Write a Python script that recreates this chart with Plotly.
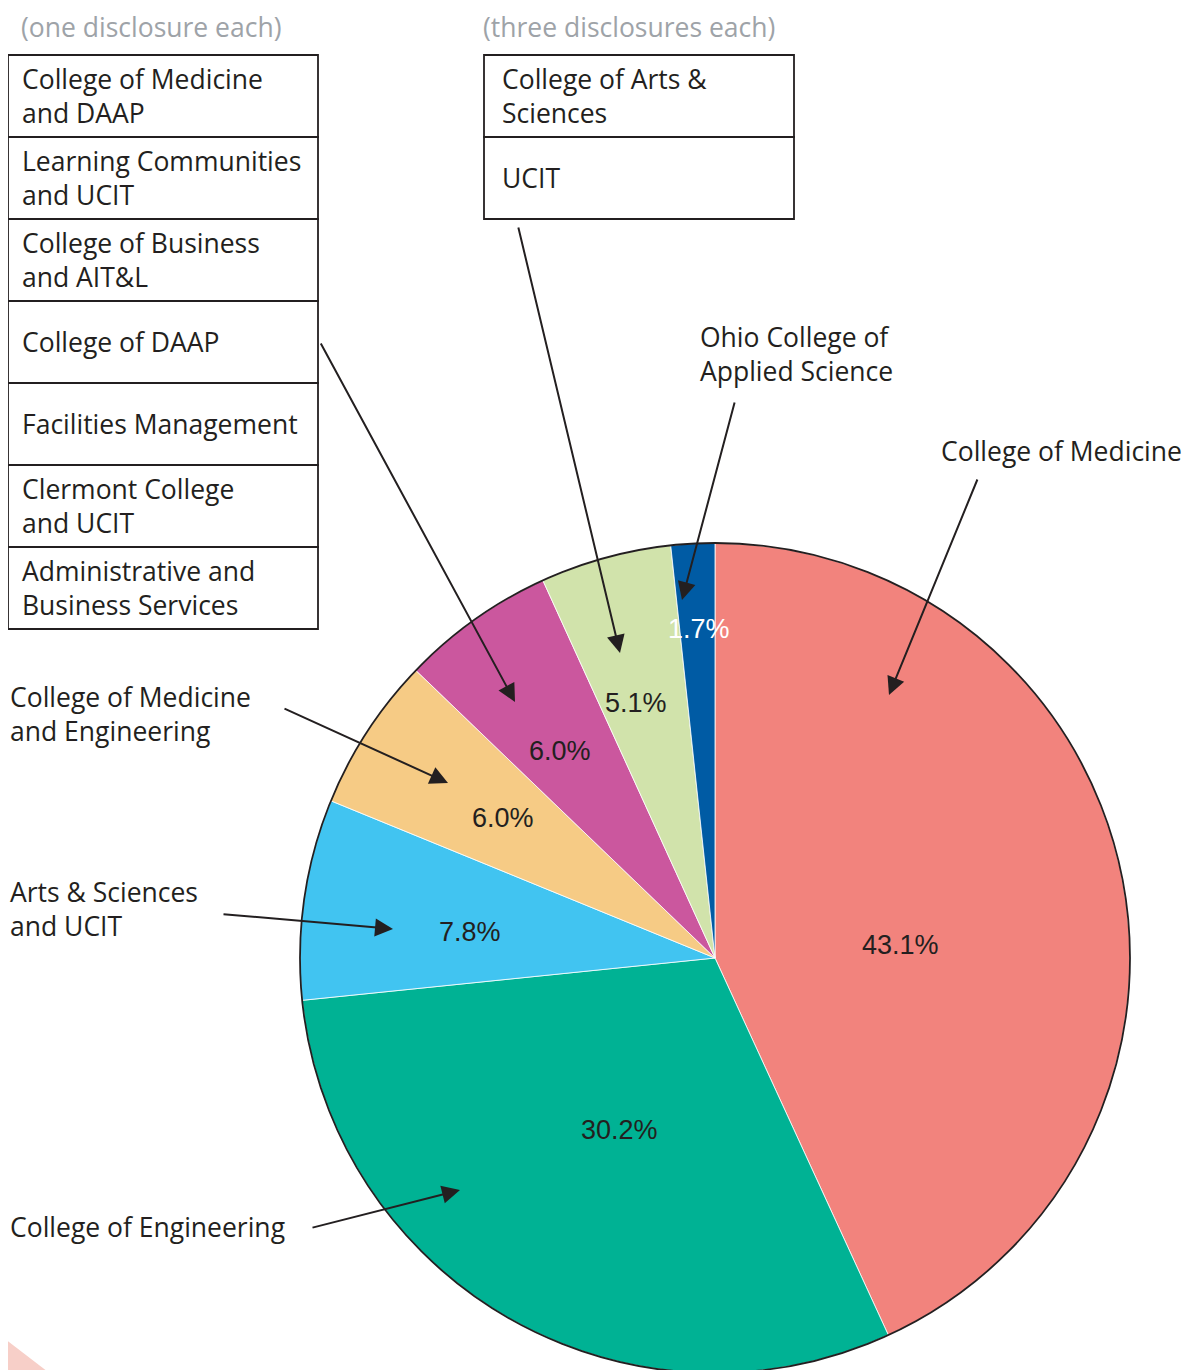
import plotly.graph_objects as go

W, H = 1190, 1370
OFF = 8  # page body margin offset of the rendered figure

# ---------------- data ----------------
slice_names = [
    "College of Medicine",
    "College of Engineering",
    "Arts & Sciences and UCIT",
    "College of Medicine and Engineering",
    "College of DAAP",
    "College of Arts & Sciences / UCIT",
    "Ohio College of Applied Science",
]
slice_values = [43.1, 30.2, 7.8, 6.0, 6.0, 5.1, 1.7]
slice_colors = ["#F2837D", "#00B294", "#41C4F1", "#F6CB85", "#CB579E", "#D1E3AB", "#005BA4"]
pct_text_colors = ["#231F20"] * 6 + ["#FFFFFF"]

one_disclosure_units = [
    "College of Medicine<br>and DAAP",
    "Learning Communities<br>and UCIT",
    "College of Business<br>and AIT&L",
    "College of DAAP",
    "Facilities Management",
    "Clermont College<br>and UCIT",
    "Administrative and<br>Business Services",
]
three_disclosure_units = [
    "College of Arts &<br>Sciences",
    "UCIT",
]
header_one = "(one disclosure each)"
header_three = "(three disclosures each)"

callout_labels = [
    "College of Medicine",
    "Ohio College of<br>Applied Science",
    "College of Medicine<br>and Engineering",
    "Arts & Sciences<br>and UCIT",
    "College of Engineering",
]

# ---------------- layout helpers (screen pixel -> paper) ----------------
def fx(px):
    return (px - OFF) / W

def fy(py):
    return 1 - (py - OFF) / H

LABEL_FONT = "'Open Sans', 'Noto Sans', sans-serif"
LABEL_SIZE = 26.5
PCT_FONT = "'Liberation Sans', Arial, sans-serif"
TXT = "#231F20"
PAD = 2  # annotation inner padding compensation

fig = go.Figure()

pie_domain = dict(x=[fx(300), fx(1130)], y=[fy(1373), fy(543)])

fig.add_trace(go.Pie(
    labels=slice_names,
    values=slice_values,
    sort=False,
    direction="clockwise",
    rotation=0,
    marker=dict(colors=slice_colors, line=dict(color="#FFFFFF", width=0.8)),
    textinfo="none",
    hoverinfo="label+percent",
    showlegend=False,
    domain=pie_domain,
))
# outer black outline
fig.add_trace(go.Pie(
    labels=["outline"],
    values=[1],
    sort=False,
    marker=dict(colors=["rgba(0,0,0,0)"], line=dict(color="#231F20", width=1.8)),
    textinfo="none",
    hoverinfo="skip",
    showlegend=False,
    domain=pie_domain,
))

shapes = []
annotations = []

# decorative corner
shapes.append(dict(type="path", xref="paper", yref="paper",
                   path=f"M {fx(0)} {fy(1335)} L {fx(52)} {fy(1375)} L {fx(0)} {fy(1375)} Z",
                   fillcolor="#F7CFC8", line=dict(width=0), layer="below"))

# headers
for htxt, hx in [(header_one, 22), (header_three, 484)]:
    annotations.append(dict(text=htxt, x=fx(hx - 1), y=fy(27), xref="paper", yref="paper",
                            xanchor="left", yanchor="middle", showarrow=False,
                            borderpad=0, borderwidth=0,
                            font=dict(family=LABEL_FONT, size=LABEL_SIZE, color="#9EA3A8")))

# boxes
box_h = 82
top = 55
for i, t in enumerate(one_disclosure_units):
    y0 = top + i * box_h
    shapes.append(dict(type="rect", xref="paper", yref="paper",
                       x0=fx(8), x1=fx(318), y0=fy(y0), y1=fy(y0 + box_h),
                       line=dict(color="#231F20", width=1.8), fillcolor="rgba(0,0,0,0)"))
    annotations.append(dict(text=t, x=fx(22 - PAD), y=fy(y0 + box_h / 2), xref="paper", yref="paper",
                            xanchor="left", yanchor="middle", align="left", showarrow=False,
                            font=dict(family=LABEL_FONT, size=LABEL_SIZE, color=TXT)))
for i, t in enumerate(three_disclosure_units):
    y0 = top + i * box_h
    shapes.append(dict(type="rect", xref="paper", yref="paper",
                       x0=fx(484), x1=fx(794), y0=fy(y0), y1=fy(y0 + box_h),
                       line=dict(color="#231F20", width=1.8), fillcolor="rgba(0,0,0,0)"))
    annotations.append(dict(text=t, x=fx(502 - PAD), y=fy(y0 + box_h / 2), xref="paper", yref="paper",
                            xanchor="left", yanchor="middle", align="left", showarrow=False,
                            font=dict(family=LABEL_FONT, size=LABEL_SIZE, color=TXT)))

# callout labels
callout_pos = [(941, 451), (700, 354), (10, 714), (10, 909), (10, 1227)]
for t, (px, py) in zip(callout_labels, callout_pos):
    annotations.append(dict(text=t, x=fx(px - PAD), y=fy(py), xref="paper", yref="paper",
                            xanchor="left", yanchor="middle", align="left", showarrow=False,
                            font=dict(family=LABEL_FONT, size=LABEL_SIZE, color=TXT)))

# percentage labels
pct_pos = [(900, 945), (620, 1130), (470, 932), (503, 818), (560, 751), (636, 703), (699, 629)]
for v, c, (px, py) in zip(slice_values, pct_text_colors, pct_pos):
    annotations.append(dict(text=f"{v:.1f}%", x=fx(px), y=fy(py), xref="paper", yref="paper",
                            xanchor="center", yanchor="middle", showarrow=False,
                            font=dict(family=PCT_FONT, size=27, color=c)))

# arrows: (head), (tail)
arrows = [
    ((515, 702), (320, 342)),
    ((620, 653), (518, 226)),
    ((682, 600), (735, 401)),
    ((889, 695), (978, 478)),
    ((448, 783), (283, 708)),
    ((393, 929), (222, 914)),
    ((460, 1190), (311, 1228)),
]
for (hx, hy), (tx, ty) in arrows:
    annotations.append(dict(text="", x=fx(hx), y=fy(hy), xref="paper", yref="paper",
                            ax=tx - hx, ay=ty - hy, axref="pixel", ayref="pixel",
                            showarrow=True, arrowhead=2, arrowsize=1.8, arrowwidth=2,
                            arrowcolor="#231F20", standoff=0, startstandoff=0))

fig.update_layout(
    width=W, height=H,
    margin=dict(l=0, r=0, t=0, b=0),
    paper_bgcolor="white", plot_bgcolor="white",
    shapes=shapes, annotations=annotations,
    showlegend=False,
)

fig.write_html("out.html")
